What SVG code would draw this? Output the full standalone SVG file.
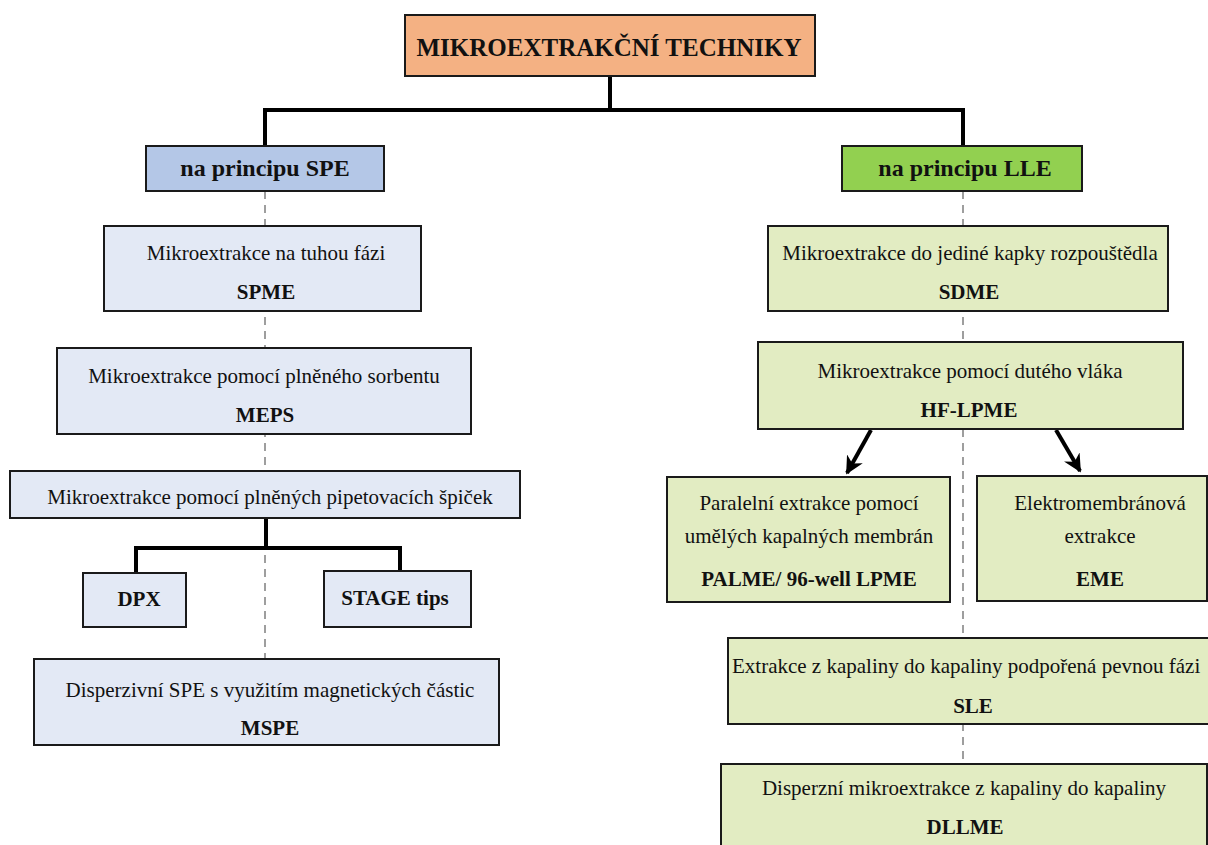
<svg xmlns="http://www.w3.org/2000/svg" width="1208" height="845" viewBox="0 0 1208 845">
<defs>
<style>
.t{font-family:"Liberation Serif","Times New Roman",serif;font-size:21px;fill:#111;text-anchor:middle}
.b{font-weight:bold}
.h{font-family:"Liberation Serif","Times New Roman",serif;font-size:24px;font-weight:bold;fill:#111;text-anchor:middle}
.box{stroke:#1a1a1a;stroke-width:2}
.lb{fill:#e3e9f5}
.lg{fill:#e2ecc2}
.solid{fill:none;stroke:#000;stroke-width:4}
.dash{fill:none;stroke:#7f7f7f;stroke-width:1.5;stroke-dasharray:8 6}
</style>
<marker id="arr" viewBox="0 0 10 10" refX="9" refY="5" markerWidth="4.5" markerHeight="4.5" orient="auto" markerUnits="strokeWidth">
<path d="M0,0 L10,5 L0,10 L3,5 Z" fill="#000"/>
</marker>
</defs>
<rect width="1208" height="845" fill="#fff"/>
<g id="connectors">
<line class="dash" x1="265" y1="191" x2="265" y2="659"/>
<line class="dash" x1="963" y1="191" x2="963" y2="764"/>
<path class="solid" d="M610,76 V110 M265,110 H963 M265,108 V147 M963,108 V147"/>
<path class="solid" d="M266,518 V548 M136,548 H400 M136,546 V573 M400,546 V571"/>
<line class="solid" x1="871" y1="430" x2="847" y2="473" marker-end="url(#arr)"/>
<line class="solid" x1="1056" y1="430" x2="1080" y2="471" marker-end="url(#arr)"/>
</g>
<g id="title">
<rect class="box" x="405" y="15" width="410" height="61" fill="#f4b183"/>
<text class="h" x="609" y="56" style="font-size:25px">MIKROEXTRAKČNÍ TECHNIKY</text>
</g>
<g id="spe">
<rect class="box" x="146" y="146" width="238" height="45" fill="#b4c7e7"/>
<text class="h" x="265" y="176">na principu SPE</text>
</g>
<g id="lle">
<rect class="box" x="842" y="146" width="240" height="45" fill="#92d050"/>
<text class="h" x="965" y="176">na principu LLE</text>
</g>
<g id="spme">
<rect class="box lb" x="104" y="226" width="317" height="85"/>
<text class="t" x="266" y="260">Mikroextrakce na tuhou fázi</text>
<text class="t b" x="266" y="299">SPME</text>
</g>
<g id="meps">
<rect class="box lb" x="57" y="348" width="414" height="86"/>
<text class="t" x="264" y="383">Mikroextrakce pomocí plněného sorbentu</text>
<text class="t b" x="265" y="422">MEPS</text>
</g>
<g id="pipette">
<rect class="box lb" x="10" y="471" width="510" height="47"/>
<text class="t" x="270" y="504">Mikroextrakce pomocí plněných pipetovacích špiček</text>
</g>
<g id="dpx">
<rect class="box lb" x="83" y="573" width="103" height="54"/>
<text class="t b" x="139" y="606">DPX</text>
</g>
<g id="stage">
<rect class="box lb" x="324" y="571" width="147" height="56"/>
<text class="t b" x="395" y="605">STAGE tips</text>
</g>
<g id="mspe">
<rect class="box lb" x="34" y="659" width="465" height="86"/>
<text class="t" x="270" y="697">Disperzivní SPE s využitím magnetických částic</text>
<text class="t b" x="270" y="735">MSPE</text>
</g>
<g id="sdme">
<rect class="box lg" x="768" y="226" width="400" height="85"/>
<text class="t" x="970" y="260">Mikroextrakce do jediné kapky rozpouštědla</text>
<text class="t b" x="969" y="299">SDME</text>
</g>
<g id="hflpme">
<rect class="box lg" x="758" y="342" width="425" height="87"/>
<text class="t" x="970" y="378">Mikroextrakce pomocí dutého vláka</text>
<text class="t b" x="969" y="417">HF-LPME</text>
</g>
<g id="palme">
<rect class="box lg" x="667" y="477" width="283" height="125"/>
<text class="t" x="809" y="510">Paralelní extrakce pomocí</text>
<text class="t" x="809" y="543">umělých kapalných membrán</text>
<text class="t b" x="809" y="586">PALME/ 96-well LPME</text>
</g>
<g id="eme">
<rect class="box lg" x="977" y="476" width="230" height="125"/>
<text class="t" x="1100" y="510">Elektromembránová</text>
<text class="t" x="1100" y="543">extrakce</text>
<text class="t b" x="1100" y="586">EME</text>
</g>
<g id="sle">
<rect class="box lg" x="728" y="638" width="495" height="86"/>
<text class="t" x="732" y="673" style="text-anchor:start">Extrakce z kapaliny do kapaliny podpořená pevnou fázi</text>
<text class="t b" x="973" y="713">SLE</text>
</g>
<g id="dllme">
<rect class="box lg" x="721" y="764" width="486" height="100"/>
<text class="t" x="964" y="795">Disperzní mikroextrakce z kapaliny do kapaliny</text>
<text class="t b" x="965" y="834">DLLME</text>
</g>
</svg>
